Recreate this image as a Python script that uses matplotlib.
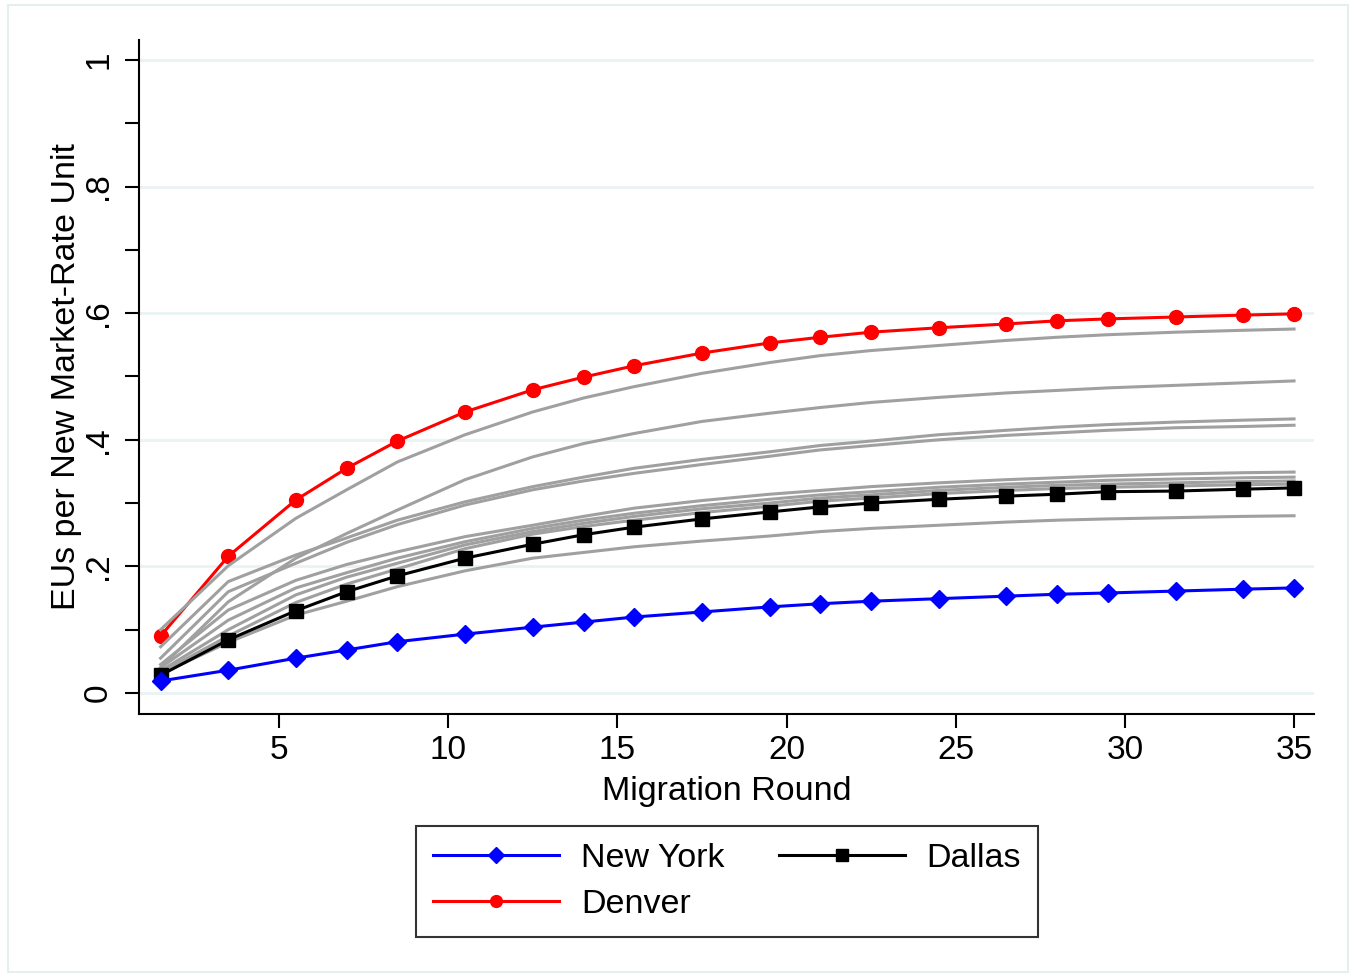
import matplotlib
matplotlib.use("Agg")
import matplotlib.pyplot as plt
from matplotlib.patches import Rectangle

plt.rcParams['font.family'] = ['Liberation Sans', 'DejaVu Sans']

# migration rounds
rounds = [1.5, 3.5, 5.5, 7, 8.5, 10.5, 12.5, 14, 15.5, 17.5, 19.5, 21, 22.5, 24.5, 26.5, 28, 29.5, 31.5, 33.5, 35]

new_york = [0.019, 0.036, 0.055, 0.068, 0.081, 0.093, 0.104, 0.112, 0.120, 0.128,
            0.136, 0.141, 0.145, 0.149, 0.153, 0.156, 0.158, 0.161, 0.164, 0.166]
dallas = [0.028, 0.084, 0.130, 0.160, 0.185, 0.213, 0.235, 0.250, 0.262, 0.275,
          0.286, 0.294, 0.300, 0.306, 0.311, 0.314, 0.318, 0.319, 0.322, 0.324]
denver = [0.090, 0.216, 0.305, 0.355, 0.398, 0.444, 0.479, 0.499, 0.517, 0.537,
          0.553, 0.562, 0.570, 0.577, 0.583, 0.588, 0.591, 0.594, 0.597, 0.599]

# other cities (gray background lines)
others = [
    [0.100, 0.201, 0.276, 0.321, 0.365, 0.408, 0.444, 0.466, 0.484, 0.505,
     0.522, 0.533, 0.541, 0.549, 0.557, 0.562, 0.566, 0.570, 0.573, 0.575],
    [0.040, 0.144, 0.213, 0.252, 0.289, 0.337, 0.373, 0.394, 0.410, 0.429,
     0.442, 0.451, 0.459, 0.467, 0.474, 0.478, 0.482, 0.486, 0.490, 0.493],
    [0.073, 0.176, 0.218, 0.245, 0.273, 0.302, 0.326, 0.341, 0.355, 0.369,
     0.381, 0.391, 0.398, 0.408, 0.415, 0.420, 0.424, 0.428, 0.431, 0.433],
    [0.055, 0.160, 0.205, 0.238, 0.266, 0.297, 0.321, 0.335, 0.347, 0.361,
     0.374, 0.384, 0.391, 0.400, 0.407, 0.411, 0.415, 0.419, 0.421, 0.423],
    [0.045, 0.131, 0.178, 0.203, 0.223, 0.247, 0.265, 0.279, 0.292, 0.304,
     0.314, 0.320, 0.326, 0.332, 0.337, 0.340, 0.343, 0.346, 0.348, 0.349],
    [0.040, 0.115, 0.166, 0.190, 0.213, 0.239, 0.260, 0.273, 0.284, 0.296,
     0.306, 0.313, 0.318, 0.325, 0.330, 0.333, 0.336, 0.338, 0.340, 0.341],
    [0.035, 0.100, 0.155, 0.183, 0.205, 0.234, 0.255, 0.268, 0.279, 0.291,
     0.300, 0.308, 0.313, 0.320, 0.325, 0.328, 0.330, 0.332, 0.334, 0.335],
    [0.032, 0.090, 0.143, 0.172, 0.196, 0.228, 0.251, 0.263, 0.273, 0.285,
     0.295, 0.303, 0.308, 0.315, 0.320, 0.323, 0.325, 0.327, 0.329, 0.330],
    [0.030, 0.080, 0.123, 0.145, 0.168, 0.193, 0.213, 0.222, 0.231, 0.240,
     0.248, 0.255, 0.260, 0.265, 0.270, 0.273, 0.275, 0.277, 0.279, 0.280],
]

y_ticks = [0, 0.2, 0.4, 0.6, 0.8, 1.0]
y_labels = ['0', '.2', '.4', '.6', '.8', '1']
x_ticks = [5, 10, 15, 20, 25, 30, 35]

fig = plt.figure(figsize=(13.56, 9.77), dpi=100)
ax = fig.add_axes([139 / 1356, 1 - 714 / 977, (1314 - 139) / 1356, (714 - 40) / 977])

# outer light frame
fig.patches.append(Rectangle((8 / 1356, 5 / 977), 1340 / 1356, 967 / 977,
                             transform=fig.transFigure, fill=False,
                             edgecolor='#e6eff0', linewidth=1.5))

for yv in y_ticks:
    ax.axhline(yv, color='#eaf2f3', linewidth=2, zorder=0)

ax.plot(rounds, denver, color='red', linewidth=2.2, marker='o', markersize=10,
        label='Denver', zorder=2)
for vals in others:
    ax.plot(rounds, vals, color='#a0a0a0', linewidth=2.2, zorder=3)
ax.plot(rounds, dallas, color='black', linewidth=2.2, marker='s', markersize=9.5,
        label='Dallas', zorder=4)
ax.plot(rounds, new_york, color='blue', linewidth=2.2, marker='D', markersize=9.5,
        label='New York', zorder=5)

ax.set_xlim(0.862, 35.59)
ax.set_ylim(-0.0332, 1.0316)
ax.spines['top'].set_visible(False)
ax.spines['right'].set_visible(False)
ax.spines['left'].set_linewidth(1.5)
ax.spines['bottom'].set_linewidth(1.5)

ax.set_yticks(y_ticks)
ax.set_yticklabels(y_labels, rotation=90, va='center')
ax.set_yticks([0.1, 0.3, 0.5, 0.7, 0.9], minor=True)
ax.set_xticks(x_ticks)
ax.tick_params(axis='both', which='both', length=10, width=1.5, labelsize=24)
ax.tick_params(axis='y', pad=8)
ax.tick_params(axis='x', pad=5)

ax.set_xlabel('Migration Round', fontsize=24.5, labelpad=7)
ax.set_ylabel('EUs per New Market-Rate Unit', fontsize=24.5, labelpad=1)

h, l = ax.get_legend_handles_labels()
order = [2, 0, 1]  # New York, Denver, Dallas
leg = fig.legend([h[i] for i in order], [l[i] for i in order], ncol=2,
                 loc='upper center', bbox_to_anchor=(727 / 1356, 1 - 826 / 977),
                 borderaxespad=0, fontsize=24.5, handlelength=3.7,
                 handletextpad=0.65, columnspacing=1.6, markerscale=0.85,
                 fancybox=False, edgecolor='black', borderpad=0.5,
                 labelspacing=0.45)
leg.get_frame().set_linewidth(1.5)

fig.savefig('out.png', dpi=100, facecolor='white')
